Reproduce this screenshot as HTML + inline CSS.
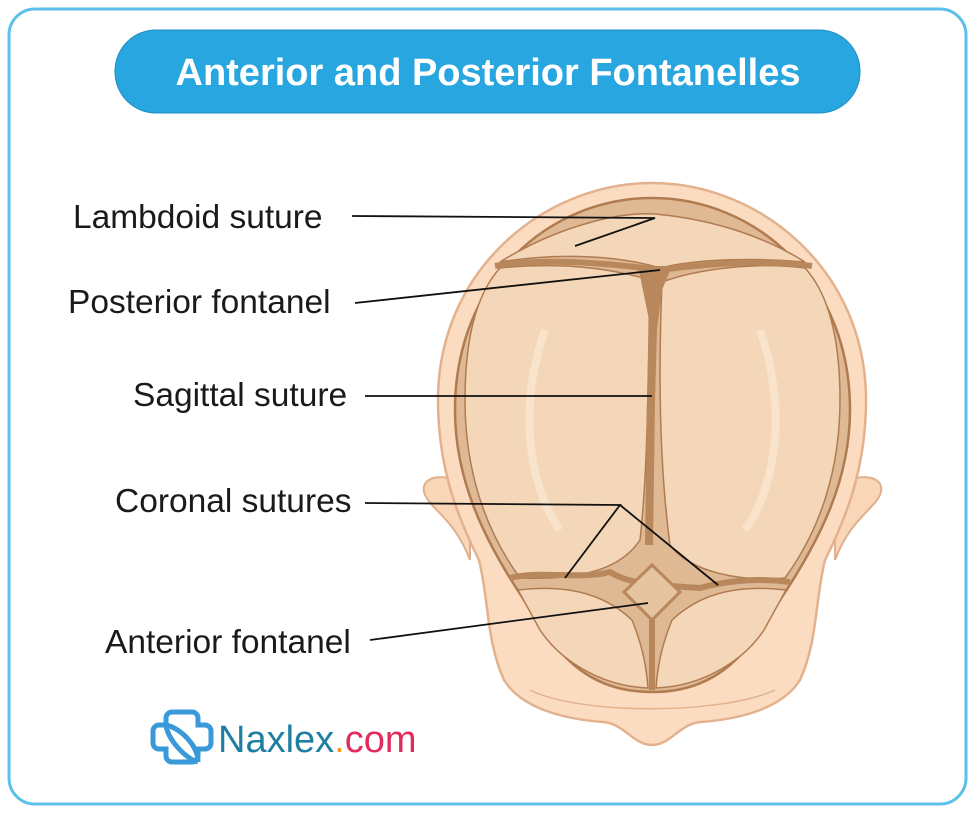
<!DOCTYPE html>
<html><head><meta charset="utf-8"><style>
html,body{margin:0;padding:0;background:#fff;}
svg{display:block;}
</style></head><body>
<svg width="975" height="813" viewBox="0 0 975 813" xmlns="http://www.w3.org/2000/svg">
<rect x="9" y="9" width="957" height="795" rx="26" fill="#fff" stroke="#5cc0ea" stroke-width="3"/>
<rect x="115" y="30" width="745" height="83" rx="41" fill="#27a6df" stroke="#1d8fc4" stroke-width="1"/>
<text x="488" y="85" text-anchor="middle" font-family="Liberation Sans, sans-serif" font-weight="bold" font-size="38" fill="#fff">Anterior and Posterior Fontanelles</text>

<!-- ears -->
<path d="M470,485 C440,470 418,478 425,495 C432,510 455,520 470,560 Z" fill="#f9d6b8" stroke="#e0b08c" stroke-width="2"/>
<path d="M835,485 C865,470 887,478 880,495 C873,510 850,520 835,560 Z" fill="#f9d6b8" stroke="#e0b08c" stroke-width="2"/>
<!-- head -->
<path d="M652,183 C760,183 866,270 866,400 C866,470 845,520 825,560 C815,600 818,640 800,680 C780,712 730,720 700,722 C680,724 670,745 652,745 C634,745 624,724 604,722 C574,720 524,712 504,680 C486,640 489,600 479,560 C459,520 438,470 438,400 C438,270 544,183 652,183 Z" fill="#fbdcc0" stroke="#e2b28e" stroke-width="2.5"/>
<path d="M530,690 C580,715 720,715 775,690" fill="none" stroke="#e2b28e" stroke-width="1.5"/>
<!-- skull bone -->
<path d="M652,198 C755,198 850,280 850,410 C850,480 820,540 780,600 C750,650 720,692 652,692 C584,692 554,650 524,600 C484,540 455,480 455,410 C455,280 549,198 652,198 Z" fill="#dfb994" stroke="#b07b50" stroke-width="2.5"/>
<!-- parietal plates -->
<path d="M500,268 C560,262 610,268 650,280 C648,380 648,470 640,540 C620,570 580,580 520,578 C485,530 465,470 465,400 C465,330 480,290 500,268 Z" fill="#f3d7b8" stroke="#b07b50" stroke-width="1.5"/>
<path d="M805,268 C760,262 700,268 662,282 C658,380 660,470 670,545 C690,572 740,582 785,578 C820,530 840,470 840,400 C840,330 825,290 805,268 Z" fill="#f3d7b8" stroke="#b07b50" stroke-width="1.5"/>
<!-- occipital -->
<path d="M500,262 C560,225 620,212 655,214 C720,220 770,240 805,262 C760,258 700,258 660,268 C620,256 560,252 500,262 Z" fill="#f3d7b8" stroke="#b07b50" stroke-width="1.5"/>
<!-- frontal plates -->
<path d="M518,590 C560,585 600,590 632,620 C640,640 646,660 648,688 C600,686 560,660 540,630 Z" fill="#f3d7b8" stroke="#b07b50" stroke-width="1.5"/>
<path d="M786,590 C744,585 704,590 672,620 C664,640 658,660 656,688 C704,686 744,660 764,630 Z" fill="#f3d7b8" stroke="#b07b50" stroke-width="1.5"/>
<!-- sutures -->
<path d="M495,266 C540,258 600,262 660,270 C720,262 770,260 812,266" fill="none" stroke="#b9875c" stroke-width="6"/>
<path d="M638,266 L672,266 L662,290 L657,330 L655,400 L653,545 L645,545 L647,400 L649,320 Z" fill="#b9875c"/>
<path d="M510,578 C540,570 580,580 610,572 C630,585 660,585 700,588 C730,580 760,578 790,582" fill="none" stroke="#b9875c" stroke-width="6"/>
<path d="M652,565 L680,592 L652,620 L624,592 Z" fill="#e5c4a0" stroke="#b9875c" stroke-width="3"/>
<line x1="652" y1="620" x2="652" y2="690" stroke="#b9875c" stroke-width="6"/>
<!-- highlights -->
<path d="M545,330 C520,400 525,480 560,530" fill="none" stroke="#fbe6d0" stroke-width="8" opacity="0.8"/>
<path d="M760,330 C785,400 780,480 745,530" fill="none" stroke="#fbe6d0" stroke-width="8" opacity="0.8"/>

<!-- leader lines -->
<g stroke="#111" stroke-width="1.8" fill="none">
<polyline points="352,216 655,218 575,246"/>
<line x1="355" y1="303" x2="660" y2="270"/>
<line x1="365" y1="396" x2="652" y2="396"/>
<polyline points="365,503 620,505 565,578"/>
<line x1="620" y1="505" x2="718" y2="585"/>
<line x1="370" y1="640" x2="648" y2="603"/>
</g>
<g font-family="Liberation Sans, sans-serif" font-size="33.5" fill="#1a1a1a">
<text x="73" y="228">Lambdoid suture</text>
<text x="68" y="313">Posterior fontanel</text>
<text x="133" y="406">Sagittal suture</text>
<text x="115" y="512">Coronal sutures</text>
<text x="105" y="653">Anterior fontanel</text>
</g>
<!-- logo -->
<g fill="none" stroke="#3a9ad9" stroke-width="5">
<path d="M172,712 h20 a6,6 0 0 1 6,6 v7 h7 a6,6 0 0 1 6,6 v12 a6,6 0 0 1 -6,6 h-7 v7 a6,6 0 0 1 -6,6 h-20 a6,6 0 0 1 -6,-6 v-7 h-7 a6,6 0 0 1 -6,-6 v-12 a6,6 0 0 1 6,-6 h7 v-7 a6,6 0 0 1 6,-6 z"/>
<path d="M166,725 C180,728 198,745 198,762"/>
<path d="M166,725 C168,740 185,758 198,762"/>
</g>
<text x="218" y="752" font-family="Liberation Sans, sans-serif" font-size="38" fill="#1f7fa3">Naxlex<tspan fill="#f39c1f">.</tspan><tspan fill="#e32a5c">com</tspan></text>
</svg>
</body></html>
